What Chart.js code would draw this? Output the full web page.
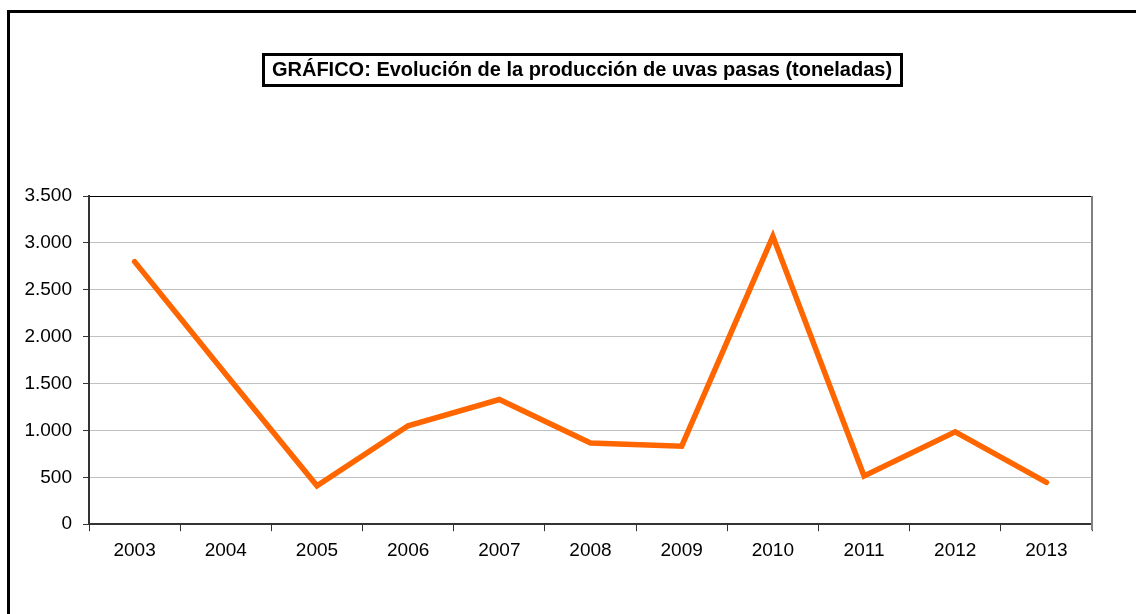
<!DOCTYPE html>
<html lang="es">
<head>
<meta charset="utf-8">
<title>Producción de uvas pasas</title>
<script src="https://cdn.jsdelivr.net/npm/chart.js@4/dist/chart.umd.min.js"></script>
<style>
  html, body { margin: 0; padding: 0; background: #fff; overflow: hidden; }
  #marco {
    position: absolute; left: 7px; top: 10px;
    width: 1200px; height: 700px;
    border: 3px solid #000;
  }
  #contenedor { position: absolute; left: 0; top: 0; width: 1136px; height: 614px; }
</style>
</head>
<body>
<div id="marco"></div>
<div id="contenedor"><canvas id="grafico"></canvas></div>
<script>
// datos (toneladas)
var anios = ["2003", "2004", "2005", "2006", "2007", "2008", "2009", "2010", "2011", "2012", "2013"];
var toneladas = [2800, 1600, 410, 1050, 1330, 867, 832, 3070, 515, 985, 446];
var titulo = "GRÁFICO: Evolución de la producción de uvas pasas (toneladas)";

var fuente = "'Liberation Sans', Arial, sans-serif";

// título en recuadro negro y borde derecho gris del área
var adornos = {
    id: "adornos",
    afterDraw: function (chart) {
        var ctx = chart.ctx;
        ctx.save();
        ctx.font = "bold 20px " + fuente;
        ctx.fillStyle = "#000";
        ctx.textAlign = "center";
        ctx.textBaseline = "middle";
        var cx = 582, cy = 70;
        var ancho = ctx.measureText(titulo).width;
        ctx.fillText(titulo, cx, cy);
        ctx.lineWidth = 3;
        ctx.strokeStyle = "#000";
        ctx.strokeRect(Math.round(cx - ancho / 2 - 9) + 0.5, 54.5, Math.round(ancho + 18), 31);

        var a = chart.chartArea;
        ctx.lineWidth = 2;
        ctx.strokeStyle = "#808080";
        ctx.beginPath();
        ctx.moveTo(a.right, a.top);
        ctx.lineTo(a.right, a.bottom + 6);
        ctx.stroke();
        ctx.restore();
    }
};

new Chart(document.getElementById("grafico"), {
    type: "line",
    data: {
        labels: anios,
        datasets: [{
            data: toneladas,
            borderColor: "#ff6600",
            backgroundColor: "#ff6600",
            borderWidth: 5.5,
            borderCapStyle: "round",
            borderJoinStyle: "miter",
            pointRadius: 0,
            tension: 0
        }]
    },
    options: {
        responsive: true,
        maintainAspectRatio: false,
        animation: false,
        layout: { padding: { left: 0, right: 44, top: 196, bottom: 44 } },
        plugins: {
            legend: { display: false },
            tooltip: { enabled: false },
            title: { display: false }
        },
        scales: {
            x: {
                offset: true,
                grid: {
                    offset: true,
                    drawOnChartArea: false,
                    tickLength: 7,
                    tickColor: "#333",
                    tickWidth: 1
                },
                border: { color: "#333", width: 2 },
                ticks: {
                    color: "#000",
                    font: { family: fuente, size: 19 },
                    padding: 8,
                    maxRotation: 0
                }
            },
            y: {
                min: 0,
                max: 3500,
                afterFit: function (scale) { scale.width = 89; },
                grid: {
                    color: function (c) { return c.tick && c.tick.value === 3500 ? "#000" : "#c0c0c0"; },
                    lineWidth: 1,
                    tickLength: 6,
                    tickColor: "#333"
                },
                border: { color: "#333", width: 2 },
                ticks: {
                    stepSize: 500,
                    color: "#000",
                    font: { family: fuente, size: 19 },
                    padding: 11,
                    callback: function (v) { return v.toLocaleString("de-DE"); }
                }
            }
        }
    },
    plugins: [adornos]
});
</script>
</body>
</html>
